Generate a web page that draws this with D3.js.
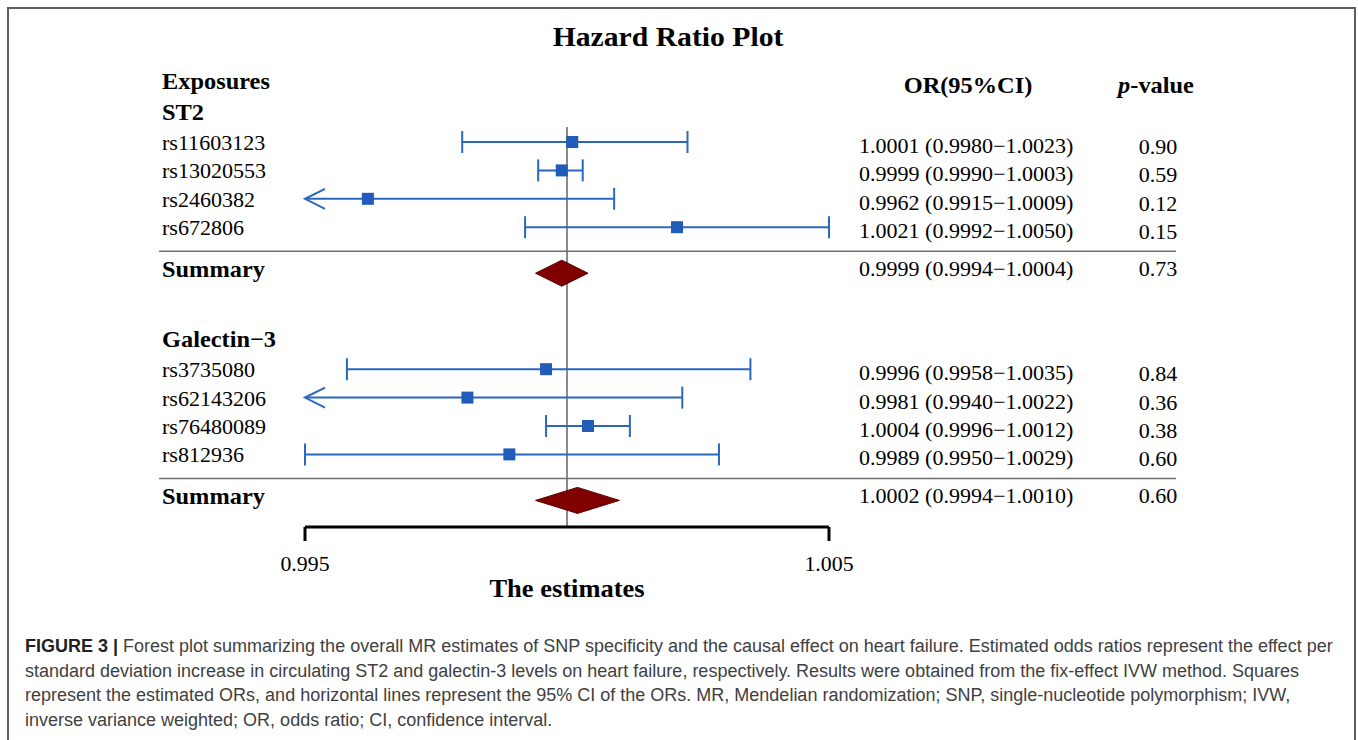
<!DOCTYPE html>
<html>
<head>
<meta charset="utf-8">
<script src="https://cdn.jsdelivr.net/npm/d3@7"></script>
<style>
  body { margin: 0; background: #fff; }
  svg { display: block; }
</style>
</head>
<body>
<svg id="svg-forest" width="1358" height="740"></svg>
<script>
var svg = d3.select("#svg-forest");

// Data
var groups = ["ST2", "Galectin\u22123"];
var snps = ["rs11603123", "rs13020553", "rs2460382", "rs672806",
            "rs3735080", "rs62143206", "rs76480089", "rs812936"];
var snpGroup = [0, 0, 0, 0, 1, 1, 1, 1];
// plotted values (as drawn in the figure)
var orEst  = [1.0001, 0.9999, 0.9962, 1.0021, 0.9996, 0.9981, 1.0004, 0.9989];
var ciLow  = [0.9980, 0.99945, 0.9915, 0.9992, 0.9958, 0.9940, 0.9996, 0.9950];
var ciHigh = [1.0023, 1.0003, 1.0009, 1.0050, 1.0035, 1.0022, 1.0012, 1.0029];
// table text
var orLabels = ["1.0001 (0.9980\u22121.0023)", "0.9999 (0.9990\u22121.0003)",
                "0.9962 (0.9915\u22121.0009)", "1.0021 (0.9992\u22121.0050)",
                "0.9996 (0.9958\u22121.0035)", "0.9981 (0.9940\u22121.0022)",
                "1.0004 (0.9996\u22121.0012)", "0.9989 (0.9950\u22121.0029)"];
var pValues = ["0.90", "0.59", "0.12", "0.15", "0.84", "0.36", "0.38", "0.60"];
var sumEst  = [0.9999, 1.0002];
var sumLow  = [0.9994, 0.9994];
var sumHigh = [1.0004, 1.0010];
var sumLabels = ["0.9999 (0.9994\u22121.0004)", "1.0002 (0.9994\u22121.0010)"];
var sumP    = ["0.73", "0.60"];
var xDomain = [0.995, 1.005];
var xTicks  = [0.995, 1.005];
var refValue = 1;

var captionLines = [
  "Forest plot summarizing the overall MR estimates of SNP specificity and the causal effect on heart failure. Estimated odds ratios represent the effect per",
  "standard deviation increase in circulating ST2 and galectin-3 levels on heart failure, respectively. Results were obtained from the fix-effect IVW method. Squares",
  "represent the estimated ORs, and horizontal lines represent the 95% CI of the ORs. MR, Mendelian randomization; SNP, single-nucleotide polymorphism; IVW,",
  "inverse variance weighted; OR, odds ratio; CI, confidence interval."
];

// Dimensions / styles
var serif = "'Liberation Serif', 'Times New Roman', serif";
var sx = 1.06; // the original text is a bit wide
var colBlue = "#2a67c0", colSquare = "#1f5db8";
var colDiamond = "#800000";
var dim = { labelX: 162, orX: 859, pX: 1158, lineL: 159, lineR: 1176,
            axisY: 527, refTop: 127, step: 28.4 };

var xScale = d3.scaleLinear().domain(xDomain).range([305, 829]);

// frame
svg.append("rect")
   .attr("x", 8).attr("y", 8).attr("width", 1347).attr("height", 745)
   .attr("fill", "none").attr("stroke", "#5e5e5e").attr("stroke-width", 2);

function txt(x, y, s, size, weight, anchor) {
  return svg.append("text")
            .attr("transform", "translate(" + x + "," + y + ") scale(" + sx + ",1)")
            .attr("font-family", serif)
            .attr("font-size", size)
            .attr("font-weight", weight || "normal")
            .attr("text-anchor", anchor || "start")
            .attr("fill", "#000")
            .text(s);
}

// row layout
var rows = [];
var y0 = 142;
var groupFirst = [];
snps.forEach(function(s, i) {
  var g = snpGroup[i];
  if (groupFirst[g] === undefined) {
    groupFirst[g] = i;
    if (g > 0) y0 += dim.step * 4; // gap before new group
    rows.push({ type: "group", g: g, y: y0 - 30 });
  }
  rows.push({ type: "snp", i: i, y: y0 });
  var last = (i === snps.length - 1) || snpGroup[i + 1] !== g;
  if (last) {
    rows.push({ type: "sep", g: g, y: y0 + 24 });
    rows.push({ type: "sum", g: g, y: y0 + 46 });
  }
  y0 += dim.step;
});

// title and headers
txt(668, 46, "Hazard Ratio Plot", 28, "bold", "middle");
txt(dim.labelX, 89, "Exposures", 23, "bold");
txt(968, 93, "OR(95%CI)", 23, "bold", "middle");
var ph = txt(1156, 93, "", 23, "bold", "middle");
ph.append("tspan").attr("font-style", "italic").text("p");
ph.append("tspan").text("-value");

// reference line
svg.append("line")
   .attr("x1", xScale(refValue)).attr("x2", xScale(refValue))
   .attr("y1", dim.refTop).attr("y2", dim.axisY)
   .attr("stroke", "#8a8a8a").attr("stroke-width", 2);

rows.forEach(function(r) {
  if (r.type === "group") {
    txt(dim.labelX, r.y + 8, groups[r.g], 23, "bold");
  } else if (r.type === "sep") {
    svg.append("line")
       .attr("x1", dim.lineL).attr("x2", dim.lineR)
       .attr("y1", r.y).attr("y2", r.y)
       .attr("stroke", "#6f6f6f").attr("stroke-width", 1.5);
  } else if (r.type === "sum") {
    var g = r.g, y = r.y;
    txt(dim.labelX, y + 4, "Summary", 23, "bold");
    svg.append("path")
       .attr("d", "M" + xScale(sumLow[g]) + "," + y +
                  " L" + xScale(sumEst[g]) + "," + (y - 13) +
                  " L" + xScale(sumHigh[g]) + "," + y +
                  " L" + xScale(sumEst[g]) + "," + (y + 13) + " Z")
       .attr("fill", colDiamond).attr("stroke", "#5a0000").attr("stroke-width", 1);
    txt(dim.orX, y + 3, sumLabels[g], 20.8);
    txt(dim.pX, y + 3, sumP[g], 20.8, "normal", "middle");
  } else {
    var i = r.i, y = r.y;
    txt(dim.labelX, y + 8, snps[i], 20.8);
    var lo = Math.max(ciLow[i], xDomain[0]), hi = Math.min(ciHigh[i], xDomain[1]);
    var ci = svg.append("g").attr("stroke", colBlue).attr("stroke-width", 2).attr("fill", "none");
    ci.append("line").attr("x1", xScale(lo)).attr("x2", xScale(hi)).attr("y1", y).attr("y2", y);
    if (ciLow[i] < xDomain[0]) {
      var tip = xScale(xDomain[0]);
      ci.append("path").attr("d", "M" + (tip + 20) + "," + (y - 10) + " L" + tip + "," + y + " L" + (tip + 20) + "," + (y + 10));
    } else {
      ci.append("line").attr("x1", xScale(lo)).attr("x2", xScale(lo)).attr("y1", y - 11).attr("y2", y + 11);
    }
    ci.append("line").attr("x1", xScale(hi)).attr("x2", xScale(hi)).attr("y1", y - 11).attr("y2", y + 11);
    svg.append("rect")
       .attr("x", xScale(orEst[i]) - 6).attr("y", y - 6)
       .attr("width", 12).attr("height", 12)
       .attr("fill", colSquare);
    txt(dim.orX, y + 11, orLabels[i], 20.8);
    txt(dim.pX, y + 12, pValues[i], 20.8, "normal", "middle");
  }
});

// axis
var axis = svg.append("g");
axis.append("line")
    .attr("x1", xScale(xDomain[0])).attr("x2", xScale(xDomain[1]))
    .attr("y1", dim.axisY).attr("y2", dim.axisY)
    .attr("stroke", "#000").attr("stroke-width", 3);
xTicks.forEach(function(t) {
  axis.append("line")
      .attr("x1", xScale(t)).attr("x2", xScale(t))
      .attr("y1", dim.axisY).attr("y2", dim.axisY + 14)
      .attr("stroke", "#000").attr("stroke-width", 3);
  txt(xScale(t), 571, String(t), 20.6, "normal", "middle");
});
txt(xScale(refValue), 597, "The estimates", 25, "bold", "middle");

// caption
var cap = svg.append("g")
             .attr("font-family", "'Liberation Sans', Arial, sans-serif")
             .attr("font-size", 18).attr("fill", "#404040");
captionLines.forEach(function(s, k) {
  var t = cap.append("text").attr("x", 25).attr("y", 652 + k * 24.5);
  if (k === 0) {
    t.append("tspan").attr("font-weight", "bold").attr("fill", "#222").text("FIGURE 3 | ");
  }
  t.append("tspan").text(s);
});
</script>
</body>
</html>
